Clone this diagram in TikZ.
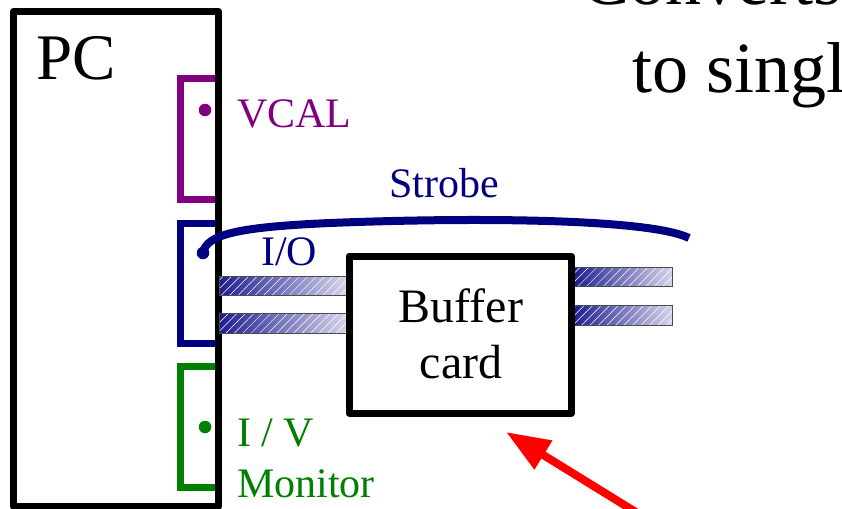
\documentclass[tikz,border=0pt]{standalone}
\usepackage{fontspec}
\setmainfont{Liberation Serif}
\usetikzlibrary{arrows.meta,patterns.meta}
\definecolor{cpurple}{RGB}{128,0,128}
\definecolor{cnavy}{RGB}{0,0,128}
\definecolor{cgreen}{RGB}{0,128,0}
\definecolor{cred}{RGB}{255,0,0}
\definecolor{bardark}{RGB}{30,30,145}
\definecolor{barlight}{RGB}{212,212,234}
\newcommand\hatchbar[4]{%
  \fill[left color=bardark,right color=barlight] (#1,#2) rectangle (#3,#4);
  \fill[pattern={Lines[angle=45,distance=6pt,line width=0.5pt]},pattern color=white,fill opacity=0.18] (#1,#2) rectangle (#3,#4);
  \draw[black!70,line width=1pt] (#1,#2) rectangle (#3,#4);}
\begin{document}
\begin{tikzpicture}[x=1pt,y=-1pt,
  bracket/.style={line width=7pt,line join=miter},
  dot/.style={circle,inner sep=0pt,minimum size=12.5pt},
  lbl/.style={anchor=base west,inner sep=0pt,font=\fontsize{42}{50}\selectfont},
  frame/.style={draw=black,line width=7pt,line join=round}]
\useasboundingbox (0,0) rectangle (842,508);
\clip (0,0) rectangle (842,508);
% title text (cropped)
\node[anchor=base west,inner sep=0pt,font=\fontsize{72}{86}\selectfont] (t1) at (581,5) {Converts};
\node[anchor=base west,inner sep=0pt,font=\fontsize{72}{86}\selectfont] (t2) at (632,93) {to single};
% brackets
\draw[bracket,cpurple] (218,79) -- (180,79) -- (180,199.5) -- (218,199.5);
\draw[bracket,cnavy] (218,223.5) -- (180,223.5) -- (180,343.5) -- (218,343.5);
\draw[bracket,cgreen] (218,366) -- (180,366) -- (180,487) -- (218,487);
\node[dot,fill=cpurple] (vdot) at (205,110) {};
\node[dot,fill=cnavy] (iodot) at (203,253) {};
\node[dot,fill=cgreen] (mdot) at (205,427) {};
% PC frame
\draw[frame] (13.5,11.5) rectangle (218.5,506);
\node[anchor=base west,inner sep=0pt,font=\fontsize{65}{78}\selectfont] (pc) at (36,80) {PC};
% labels
\node[lbl,text=cpurple] (vcal) at (237,128) {VCAL};
\node[lbl,text=cnavy] (io) at (261,265) {I/O};
\node[lbl,text=cnavy] (strobe) at (389,197) {Strobe};
\node[lbl,text=cgreen] (iv) at (237,446) {I / V};
\node[lbl,text=cgreen] (mon) at (237,497) {Monitor};
% strobe curve
\coordinate (send) at (689,238);
\draw[cnavy,line width=8pt] (iodot.center) .. controls (206,234) and (240,227) .. (330,223)
  .. controls (480,217) and (650,219) .. (send);
% bars
\hatchbar{219}{276}{346}{295}
\hatchbar{219}{313}{346}{333}
\hatchbar{573}{267}{672}{286}
\hatchbar{573}{305}{672}{325}
% buffer card
\node[frame,minimum width=222.5pt,minimum height=157pt,inner sep=0pt,fill=white] (buf) at (460.25,334.5) {};
\node[anchor=base,inner sep=0pt,font=\fontsize{48}{56}\selectfont] (b1) at (461,322) {Buffer};
\node[anchor=base,inner sep=0pt,font=\fontsize{48}{56}\selectfont] (b2) at (461,378) {card};
% red arrow
\coordinate (atip) at (506,432);
\coordinate (atail) at (660,527);
\draw[cred,line width=8pt,-{Triangle[length=44pt,width=32pt]}] (atail) -- (atip);
\end{tikzpicture}
\end{document}
